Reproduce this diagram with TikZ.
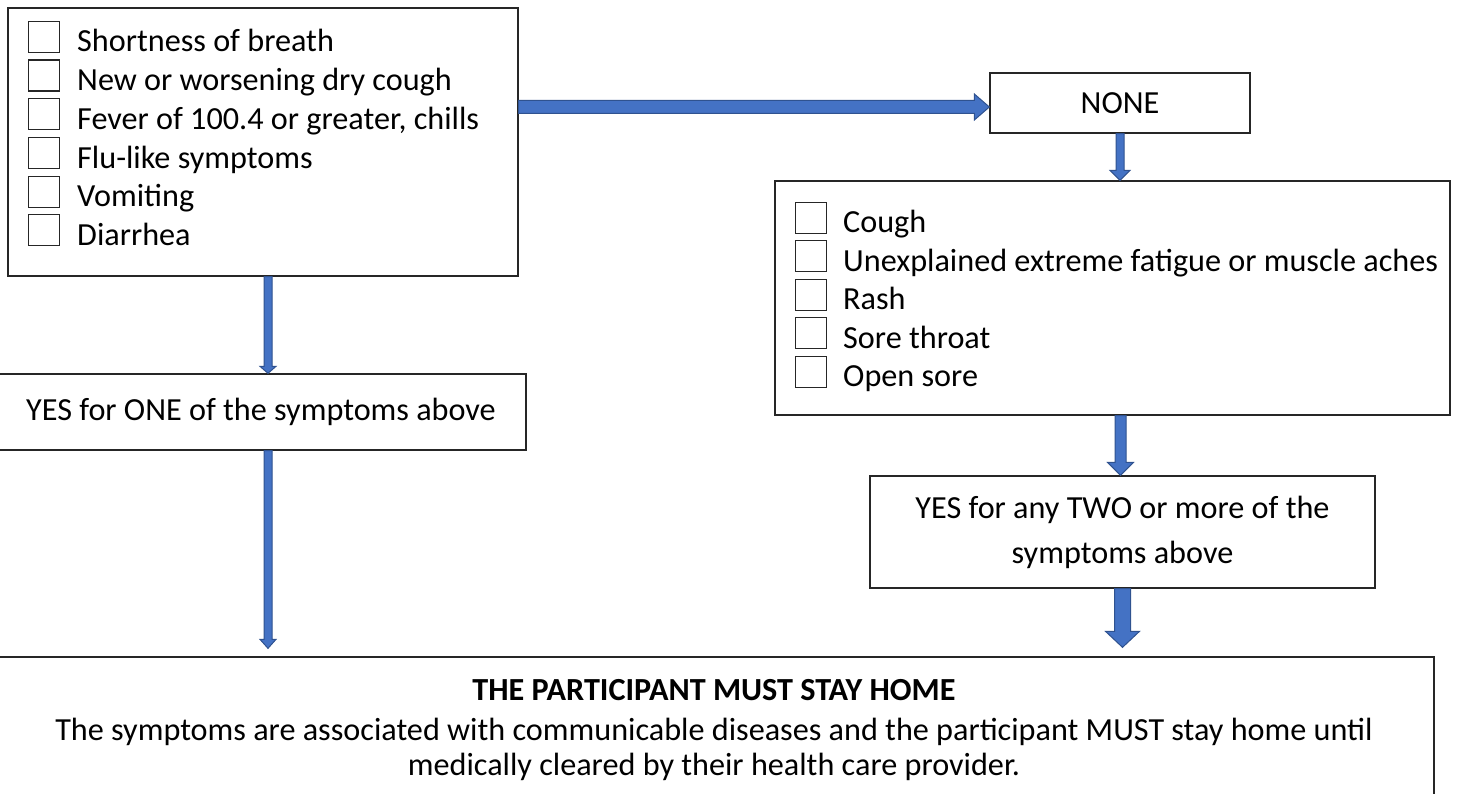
\documentclass[tikz,border=0pt]{standalone}
\usepackage{fontspec}
\setmainfont{Carlito}
\usetikzlibrary{calc}
\definecolor{arrfill}{HTML}{4472C4}
\definecolor{arredge}{HTML}{2F528F}
\newcommand\varr[5]{%
  \path[blockarr] let \p1=(#1),\p2=(#2) in
    (\x1-#3pt,\y1) -- (\x1-#3pt,\y2+#5pt) -- (\x1-#4pt,\y2+#5pt) -- (\x1,\y2)
    -- (\x1+#4pt,\y2+#5pt) -- (\x1+#3pt,\y2+#5pt) -- (\x1+#3pt,\y1) -- cycle;}
\newcommand\harr[5]{%
  \path[blockarr] let \p1=(#1),\p2=(#2) in
    (\x1,\y1-#3pt) -- (\x2-#5pt,\y1-#3pt) -- (\x2-#5pt,\y1-#4pt) -- (\x2,\y1)
    -- (\x2-#5pt,\y1+#4pt) -- (\x2-#5pt,\y1+#3pt) -- (\x1,\y1+#3pt) -- cycle;}
\begin{document}
\begin{tikzpicture}[x=1pt,y=-1pt,
  box/.style={draw=black!85, line width=1.3pt, fill=white, inner sep=0pt},
  chk/.style={draw=black!85, line width=1.2pt, inner sep=0pt, minimum width=31pt, minimum height=31pt, anchor=south west},
  item/.style={inner sep=0pt, anchor=base west, font=\fontsize{32.2}{38}\selectfont},
  label/.style={inner sep=0pt, font=\fontsize{32.2}{38}\selectfont, align=center},
  blockarr/.style={fill=arrfill, draw=arredge, line width=1pt}]
\useasboundingbox (0,0) rectangle (1465,794);
\clip (0,0) rectangle (1465,794);
% boxes
\node[box, minimum width=510pt, minimum height=268pt] (A) at (263,142) {};
\node[box, minimum width=260pt, minimum height=60pt, label] (N) at (1120,103) {NONE};
\node[box, minimum width=675pt, minimum height=234pt] (B) at (1112.5,298) {};
\node[box, minimum width=530pt, minimum height=76pt, label] (Y1) at (261,412) {YES for ONE of the symptoms above};
\node[box, minimum width=505pt, minimum height=112pt, label, font=\fontsize{32.2}{45}\selectfont] (Y2) at (1122.5,532) {YES for any TWO or more of the\\symptoms above};
\node[box, minimum width=1440pt, minimum height=146pt, label, font=\fontsize{32.2}{35}\selectfont] (F) at (714,730)
  {\textbf{THE PARTICIPANT MUST STAY HOME}\\[5pt]
   The symptoms are associated with communicable diseases and the participant MUST stay home until\\
   medically cleared by their health care provider.};
% list A
\foreach \t [count=\i] in {Shortness of breath, New or worsening dry cough, {Fever of 100.4 or greater, chills}, Flu-like symptoms, Vomiting, Diarrhea}{
  \pgfmathsetmacro\b{52+38.7*(\i-1)}
  \node[chk] (ca\i) at (28,\b+1) {};
  \node[item] (ta\i) at (77,\b) {\t};
}
% list B
\foreach \t [count=\i] in {Cough, Unexplained extreme fatigue or muscle aches, Rash, Sore throat, Open sore}{
  \pgfmathsetmacro\b{233+38.5*(\i-1)}
  \node[chk] (cb\i) at (795,\b+1) {};
  \node[item] (tb\i) at (843,\b) {\t};
}
% arrows
\coordinate (h1) at ($(A.east |- N.west)+(0,4)$);
\coordinate (h2) at ($(N.west)+(0,4)$);
\harr{h1}{h2}{6.5}{13}{15}
\varr{N.south}{B.north}{4}{10}{10}
\coordinate (a1) at ($(A.south)+(5,0)$);
\coordinate (a2) at ($(A.south |- Y1.north)+(5,0)$);
\varr{a1}{a2}{4}{8}{7}
\coordinate (b1) at ($(Y1.south)+(7,0)$);
\coordinate (b2) at ($(Y1.south |- F.north)+(7,-8)$);
\varr{b1}{b2}{4}{8}{9}
\coordinate (c1) at ($(B.south)+(8,0)$);
\coordinate (c2) at ($(B.south |- Y2.north)+(8,0)$);
\varr{c1}{c2}{5.5}{13}{13}
\coordinate (d1) at (Y2.south);
\coordinate (d2) at ($(Y2.south |- F.north)+(0,-9)$);
\varr{d1}{d2}{8}{17}{16}
\end{tikzpicture}
\end{document}
